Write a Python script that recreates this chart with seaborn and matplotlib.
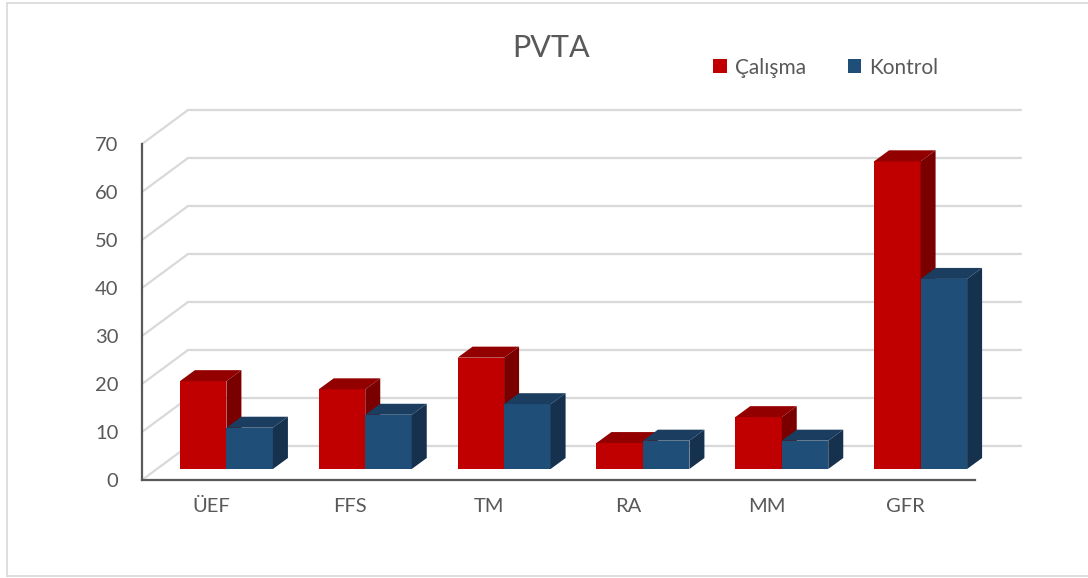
import matplotlib
matplotlib.use("Agg")
import matplotlib.pyplot as plt
from matplotlib.lines import Line2D
from matplotlib.patches import Polygon
import pandas as pd
import seaborn as sns

categories = ["ÜEF", "FFS", "TM", "RA", "MM", "GFR"]
series_names = ["Çalışma", "Kontrol"]
calisma = [18.3, 16.6, 23.2, 5.4, 10.8, 64.1]
kontrol = [8.6, 11.3, 13.5, 5.9, 5.9, 39.6]
y_ticks = [0, 10, 20, 30, 40, 50, 60, 70]

FRONT = {"Çalışma": "#C00000", "Kontrol": "#1F4E79"}
TOP = {"Çalışma": "#920000", "Kontrol": "#1A3D60"}
SIDE = {"Çalışma": "#7A0000", "Kontrol": "#16314E"}
GRID = "#d9d9d9"
TEXT = "#595959"

sns.set_theme(style="white")
plt.rcParams["font.family"] = ["Lato", "DejaVu Sans"]

df = pd.DataFrame({
    "category": categories * 2,
    "value": calisma + kontrol,
    "series": [series_names[0]] * len(categories) + [series_names[1]] * len(categories),
})

fig = plt.figure(figsize=(10.88, 5.78), dpi=100)
ax = fig.add_axes([142 / 1088, 98 / 578, 833 / 1088, 336 / 578])

sns.barplot(data=df, x="category", y="value", hue="series", palette=FRONT,
            saturation=1, width=0.67, ax=ax, linewidth=0)
ax.set_xlim(-0.5, 5.5)
ax.set_ylim(0, 70)

# pixel -> data unit conversion for the fake 3D offsets
p0, p1 = ax.transData.transform([(0, 0), (1, 1)])
sx, sy = p1[0] - p0[0], p1[1] - p0[1]
shx, shy = 15 / sx, 11 / sy      # bar plane offset from the axis plane
ddx, ddy = 15 / sx, 11 / sy      # bar depth
wx, wy = 46 / sx, 34 / sy        # back wall offset

# back wall gridlines
for v in y_ticks:
    ax.plot([-0.5, -0.5 + wx], [v, v + wy], color=GRID, lw=1.6, zorder=1, clip_on=False)
    ax.plot([-0.5 + wx, 5.5 + wx], [v + wy, v + wy], color=GRID, lw=1.6, zorder=1, clip_on=False)

for i, (name, cont) in enumerate(zip(series_names, ax.containers)):
    z = 3 + i
    for bar in cont:
        x0 = bar.get_x() + shx
        w = bar.get_width()
        h = bar.get_height()
        bar.set_x(x0)
        bar.set_y(shy)
        bar.set_zorder(z)
        bar.set_clip_on(False)
        y1 = shy + h
        top = Polygon([(x0, y1), (x0 + w, y1), (x0 + w + ddx, y1 + ddy), (x0 + ddx, y1 + ddy)],
                      closed=True, facecolor=TOP[name], edgecolor="none", zorder=z + 0.1, clip_on=False)
        side = Polygon([(x0 + w, shy), (x0 + w + ddx, shy + ddy), (x0 + w + ddx, y1 + ddy), (x0 + w, y1)],
                       closed=True, facecolor=SIDE[name], edgecolor="none", zorder=z + 0.1, clip_on=False)
        ax.add_patch(top)
        ax.add_patch(side)

ax.set_yticks(y_ticks)
ax.set_xlabel("")
ax.set_ylabel("")
ax.tick_params(axis="y", length=0, pad=17, labelsize=14.5, labelcolor=TEXT)
ax.tick_params(axis="x", length=0, pad=13, labelsize=14.5, labelcolor=TEXT)
sns.despine(ax=ax)
for side_name in ["left", "bottom"]:
    ax.spines[side_name].set_color(TEXT)
    ax.spines[side_name].set_linewidth(1.6)
    ax.spines[side_name].set_zorder(2)

sns.move_legend(ax, "center left", bbox_to_anchor=(713 / 1088, 1 - 67.5 / 578),
                bbox_transform=fig.transFigure, ncol=2, frameon=False, title=None,
                fontsize=15, labelcolor=TEXT, handlelength=0.65, handleheight=0.65,
                columnspacing=2.0, handletextpad=0.4, borderpad=0, borderaxespad=0)

fig.text(551 / 1088, 1 - 48 / 578, "PVTA", ha="center", va="center", fontsize=22, color=TEXT)

# outer chart frame: top, left and bottom edges only
fx0, fx1 = 7 / 1088, 1.0
fy0, fy1 = 2 / 578, 1 - 3 / 578
for xs, ys in [([fx0, fx1], [fy1, fy1]), ([fx0, fx0], [fy0, fy1]), ([fx0, fx1], [fy0, fy0])]:
    fig.add_artist(Line2D(xs, ys, transform=fig.transFigure, color=GRID, lw=1.2))

fig.savefig("out.png", dpi=100)
